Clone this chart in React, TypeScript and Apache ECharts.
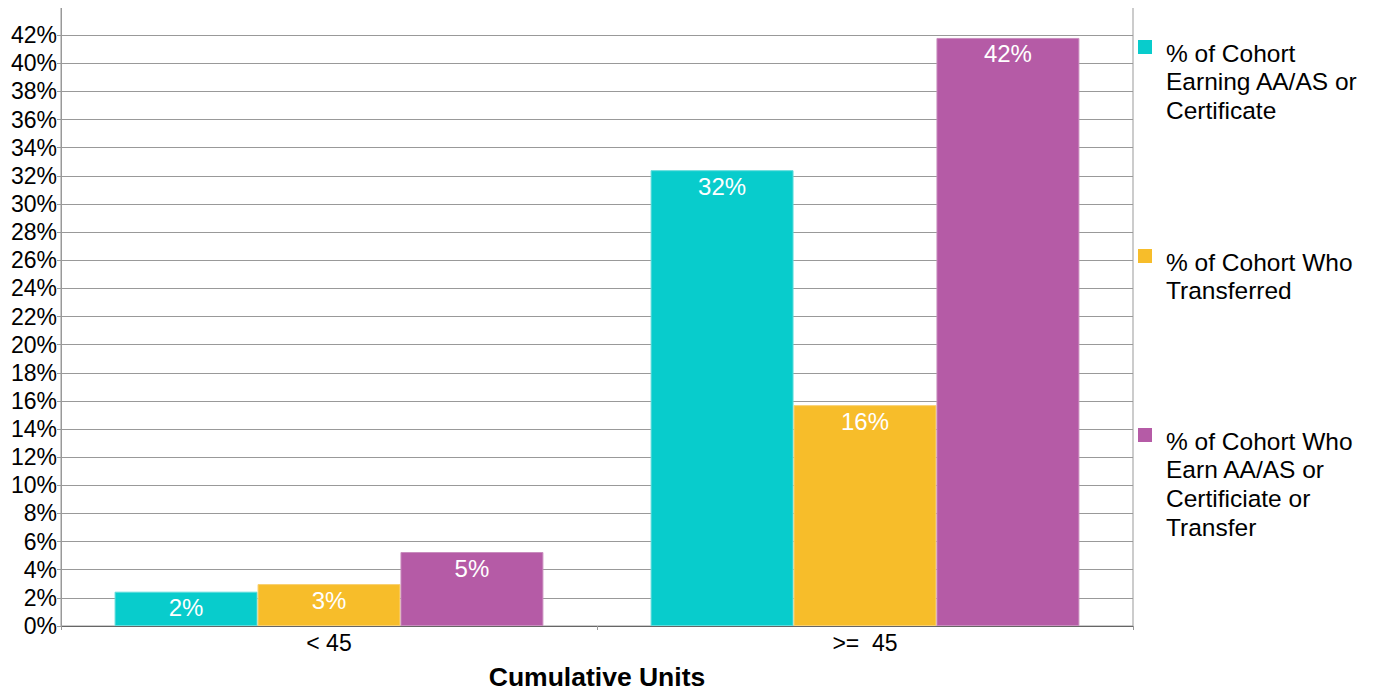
import React, { useEffect, useRef } from "react";
import * as echarts from "echarts";

const categories = ["< 45", ">=  45"];
const seriesNames = [
  "% of Cohort\nEarning AA/AS or\nCertificate",
  "% of Cohort Who\nTransferred",
  "% of Cohort Who\nEarn AA/AS or\nCertificiate or\nTransfer",
];
const earning = [2.44, 32.4];
const transferred = [2.98, 15.7];
const earnOrTransfer = [5.26, 41.8];
const colors = ["#08CCCC", "#F7BD2A", "#B55BA6"];
const borders = ["#5FDCDC", "#F9D070", "#C98DBE"];
const legendTops = [39, 248, 427];

export default function App() {
  const ref = useRef<HTMLDivElement>(null);
  useEffect(() => {
    const chart = echarts.init(ref.current!, null, { renderer: "svg" });
    const data = [earning, transferred, earnOrTransfer];
    const font = "'Liberation Sans', Arial, sans-serif";
    const graphic: any[] = [];
    seriesNames.forEach((n, i) => {
      graphic.push({
        type: "rect",
        left: 1138,
        top: legendTops[i] + 1,
        shape: { width: 14, height: 14 },
        style: { fill: colors[i] },
      });
      graphic.push({
        type: "text",
        left: 1166,
        top: legendTops[i],
        style: {
          text: n,
          fill: "#000",
          font: `24.5px ${font}`,
          lineHeight: 28.6,
        },
      });
    });
    chart.setOption({
      animation: false,
      textStyle: { fontFamily: font },
      grid: {
        left: 61,
        right: 242,
        top: 7,
        bottom: 66,
        outerBoundsMode: "none",
        show: true,
        borderColor: "#999",
        borderWidth: 1,
      },
      graphic,
      xAxis: {
        type: "category",
        data: categories,
        name: "Cumulative Units",
        nameLocation: "middle",
        nameGap: 37,
        nameTextStyle: { fontSize: 26.5, fontWeight: "bold", color: "#000" },
        axisLine: { lineStyle: { color: "#666" } },
        axisTick: { show: true, length: 4, lineStyle: { color: "#999" } },
        axisLabel: { fontSize: 23, color: "#000", margin: 5 },
      },
      yAxis: {
        type: "value",
        min: 0,
        max: 44,
        interval: 2,
        axisLine: { show: true, lineStyle: { color: "#999" } },
        axisTick: { show: true, length: 4, lineStyle: { color: "#999" } },
        splitLine: { lineStyle: { color: "#999" } },
        axisLabel: {
          fontSize: 23,
          color: "#000",
          margin: 4,
          formatter: (v: number) => (v === 44 ? "" : v + "%"),
        },
      },
      series: seriesNames.map((n, i) => ({
        name: n,
        type: "bar",
        data: data[i],
        barGap: "0%",
        barCategoryGap: "20%",
        itemStyle: { color: colors[i], borderColor: borders[i], borderWidth: 1 },
        label: {
          show: true,
          position: "insideTop",
          distance: 4,
          color: "#fff",
          fontSize: 24,
          formatter: (p: any) => Math.round(p.value) + "%",
        },
      })),
    });
    return () => chart.dispose();
  }, []);
  return <div ref={ref} style={{ width: 1375, height: 692, marginLeft: -8, marginTop: -8 }} />;
}
